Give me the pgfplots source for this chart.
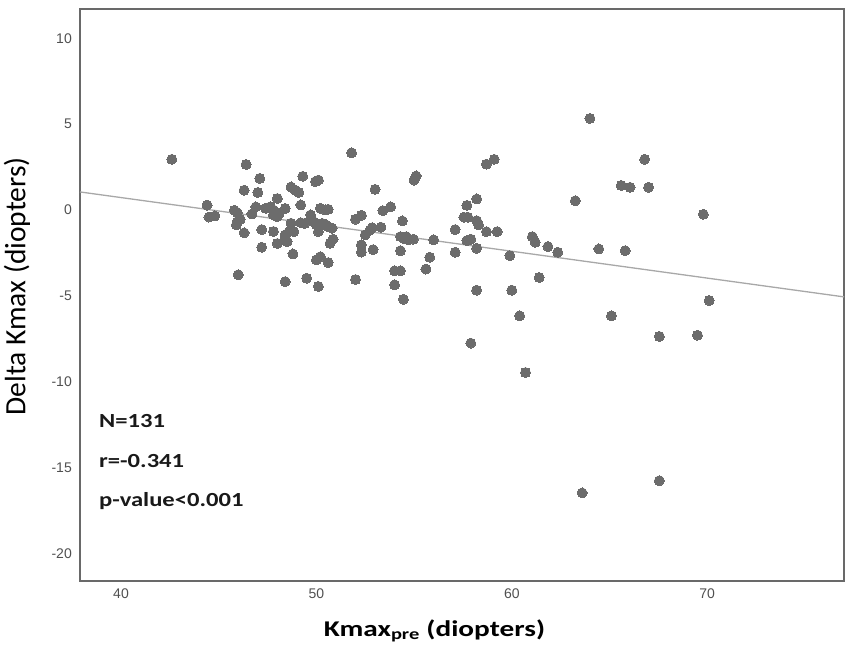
\documentclass[border=0pt]{standalone}
\usepackage{fontspec}
\setmainfont{Liberation Sans}
\newfontfamily\annfont[FakeStretch=1.23]{Carlito}
\newfontfamily\xlabfont[FakeStretch=1.3]{Carlito}
\newfontfamily\ylabfont{Carlito}
\usepackage{pgfplots}
\pgfplotsset{compat=1.18}
\definecolor{markgray}{RGB}{108,108,108}
\definecolor{linegray}{RGB}{168,168,168}
\definecolor{framegray}{RGB}{105,105,105}
\definecolor{tickgray}{RGB}{80,80,80}
\begin{document}
\begin{tikzpicture}
\useasboundingbox (-80bp,-72bp) rectangle (771bp,581bp);
\begin{axis}[
  at={(0,0)}, anchor=south west,
  width=764bp, height=572bp, scale only axis,
  xmin=37.9, xmax=77, ymin=-21.6, ymax=11.7,
  xtick={40,50,60,70}, ytick={-20,-15,-10,-5,0,5,10},
  xticklabels={40,50,60,70}, yticklabels={-20,-15,-10,-5,0,5,10},
  major tick length=0pt,
  /pgf/number format/assume math mode=true,
  tick label style={font=\fontsize{14bp}{16bp}\selectfont, text=tickgray},
  yticklabel style={inner sep=0pt, xshift=-8bp},
  xticklabel style={inner sep=0pt, yshift=-8bp},
  axis line style={draw=framegray, line width=1.6bp},
  clip=false,
]
\addplot[draw=linegray, line width=1.3bp] coordinates {(37.9,1.05) (77,-5.06)};
\addplot[only marks, mark=*, mark size=5bp, mark options={fill=markgray, draw=markgray, line width=0pt}] table {
x y
42.6 2.95
44.4 0.28
44.5 -0.41
44.8 -0.35
45.8 -0.02
45.95 -0.16
46.1 -0.54
45.9 -0.87
45.95 -0.68
46.3 -1.33
46.0 -3.77
46.4 2.65
46.3 1.15
47.1 1.84
47.0 1.02
46.9 0.18
46.7 -0.23
47.2 -1.14
47.2 -2.17
47.4 0.1
47.65 0.19
47.8 0.0
47.8 -0.29
48.0 -0.39
48.1 -0.19
48.0 0.67
48.4 0.09
47.8 -1.25
48.0 -1.95
48.7 -0.77
48.6 -1.26
48.4 -1.45
48.85 -1.26
48.5 -1.84
48.4 -1.65
48.8 -2.56
48.4 -4.17
49.3 1.96
48.7 1.34
49.1 1.02
48.9 1.16
49.95 1.65
50.1 1.74
49.2 0.29
49.2 -0.74
49.4 -0.78
49.7 -0.29
49.85 -0.68
50.0 -0.87
50.3 -0.78
50.5 -0.87
50.8 -1.06
50.1 -1.26
50.6 -0.97
50.45 0.0
50.6 0.04
50.2 0.1
50.7 -1.94
50.85 -1.7
50.0 -2.9
50.2 -2.72
50.6 -3.06
49.5 -3.97
50.1 -4.45
51.8 3.33
52.0 -0.54
52.3 -0.31
53.4 -0.04
53.8 0.18
52.5 -1.45
52.75 -1.16
52.85 -1.03
53.3 -1.0
52.3 -2.03
52.3 -2.45
52.9 -2.31
52.0 -4.05
53.0 1.2
55.1 1.98
55.0 1.74
54.4 -0.64
54.3 -1.55
54.5 -1.68
54.7 -1.74
54.96 -1.7
54.6 -1.55
54.3 -2.37
54.0 -3.54
54.3 -3.54
54.0 -4.36
54.45 -5.2
56.0 -1.74
55.8 -2.75
55.6 -3.44
57.1 -1.14
57.1 -2.46
57.55 -0.42
57.75 -0.42
57.7 0.27
58.2 0.64
58.2 -0.62
58.3 -0.87
57.7 -1.78
57.9 -1.7
58.2 -2.23
58.7 -1.26
59.25 -1.26
58.7 2.67
59.1 2.95
58.2 -4.67
57.9 -7.75
59.9 -2.66
60.0 -4.67
60.4 -6.16
60.7 -9.46
61.05 -1.55
61.2 -1.88
61.85 -2.13
62.35 -2.46
61.4 -3.93
63.25 0.54
64.0 5.33
66.8 2.95
65.6 1.43
66.05 1.32
67.0 1.32
69.8 -0.25
64.45 -2.27
65.8 -2.37
70.1 -5.27
65.1 -6.16
67.55 -7.36
69.5 -7.29
67.55 -15.76
63.6 -16.47
};
\node[anchor=base west, inner sep=0pt, text=black!90] at (rel axis cs:0.0249,0.2675) {\annfont\bfseries\fontsize{20bp}{24bp}\selectfont N=131};
\node[anchor=base west, inner sep=0pt, text=black!90] at (rel axis cs:0.0249,0.1993) {\annfont\bfseries\fontsize{20bp}{24bp}\selectfont r=-0.341};
\node[anchor=base west, inner sep=0pt, text=black!90] at (rel axis cs:0.0249,0.131) {\annfont\bfseries\fontsize{20bp}{24bp}\selectfont p-value<0.001};
\node[anchor=base, inner sep=0pt] at (rel axis cs:0.464,-0.0974) {\xlabfont\bfseries\fontsize{22.5bp}{26bp}\selectfont Kmax\textsubscript{pre} (diopters)};
\node[anchor=center, rotate=90, inner sep=0pt] at (rel axis cs:-0.0825,0.515) {\ylabfont\fontsize{29.5bp}{34bp}\selectfont Delta Kmax (diopters)};
\end{axis}
\end{tikzpicture}
\end{document}
